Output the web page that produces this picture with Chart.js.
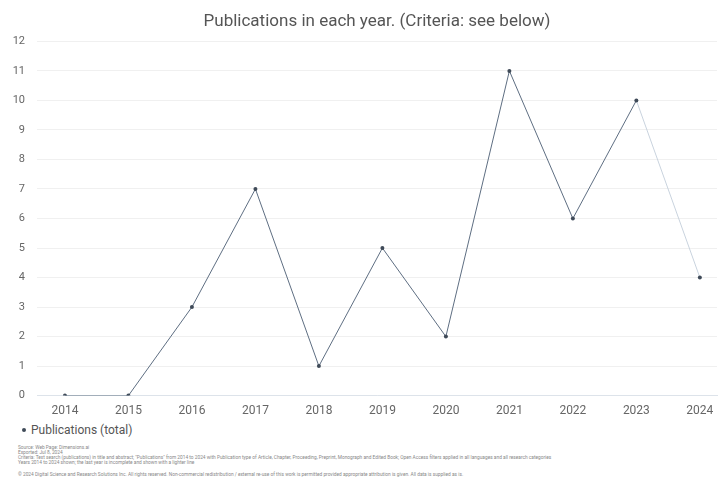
<!DOCTYPE html>
<html>
<head>
<meta charset="utf-8">
<script src="https://cdn.jsdelivr.net/npm/chart.js@4/dist/chart.umd.min.js"></script>
<style>
    body { margin: 0; background: #fff; font-family: Roboto, "Noto Sans", sans-serif; }
    #wrap { position: relative; width: 721px; height: 418px; }
    #legend { margin: 5px 0 0 22px; height: 14px; color: #555; font-size: 12px; line-height: 14px; }
    #legend span.dot { display: inline-block; width: 4px; height: 4px; border-radius: 50%; background: #3f4a58; vertical-align: middle; margin: 0 5px 2px 0; }
    #notes { padding: 8px 0 0 18px; color: #888; font-size: 4.8px; line-height: 5px; width: 695px; }
    #notes p { margin: 0 0 7px 0; }
</style>
</head>
<body>
<div id="wrap"><canvas id="chart"></canvas></div>
<div id="legend"></div>
<div id="notes">
    <p>Source: Web Page: Dimensions.ai<br>Exported: Jul 8, 2024<br>Criteria: Text search (publications) in title and abstract; &quot;Publications&quot; from 2014 to 2024 with Publication type of Article, Chapter, Proceeding, Preprint, Monograph and Edited Book; Open Access filters applied in all languages and all research categories<br>Years 2014 to 2024 shown; the last year is incomplete and shown with a lighter line</p>
    <p>&copy; 2024 Digital Science and Research Solutions Inc. All rights reserved. Non-commercial redistribution / external re-use of this work is permitted provided appropriate attribution is given. All data is supplied as is.</p>
</div>
<script>
let years = [2014, 2015, 2016, 2017, 2018, 2019, 2020, 2021, 2022, 2023, 2024];
let publications = [0, 0, 3, 7, 1, 5, 2, 11, 6, 10, 4];
let partialYear = 2024;
let seriesLabel = 'Publications (total)';
let titleText = 'Publications in each year. (Criteria: see below)';

let lineColor = '#5e6e82';
let partialColor = '#c9d3de';

let chart = new Chart(document.getElementById('chart').getContext('2d'), {
    type: 'line',
    data: {
        datasets: [{
            label: seriesLabel,
            data: years.map(function (y, i) { return { x: y, y: publications[i] }; }),
            borderColor: lineColor,
            backgroundColor: '#3f4a58',
            borderWidth: 1,
            pointRadius: 2,
            pointBorderWidth: 0,
            pointBackgroundColor: '#3f4a58',
            tension: 0,
            segment: {
                borderColor: function (ctx) {
                    return ctx.p1.parsed.x === partialYear ? partialColor : lineColor;
                }
            }
        }]
    },
    options: {
        responsive: true,
        maintainAspectRatio: false,
        animation: false,
        layout: { padding: { left: 0, right: 4, top: 6, bottom: 0 } },
        plugins: {
            title: {
                display: true,
                fullSize: false,
                text: titleText,
                color: '#555',
                font: { size: 17, family: 'Roboto', weight: 'normal' },
                padding: { top: 6, bottom: 9 }
            },
            legend: { display: false },
            tooltip: { enabled: false }
        },
        scales: {
            x: {
                type: 'linear',
                min: 2013.56,
                max: 2024.27,
                afterBuildTicks: function (axis) {
                    axis.ticks = years.map(function (y) { return { value: y }; });
                },
                ticks: {
                    color: '#666',
                    font: { size: 12, family: 'Roboto' },
                    callback: function (v) { return String(v); },
                    padding: 0
                },
                grid: { display: false },
                border: { color: '#dde3ea' }
            },
            y: {
                min: 0,
                max: 12,
                afterFit: function (axis) {
                    axis.width = 37;
                },
                ticks: {
                    stepSize: 1,
                    color: '#666',
                    font: { size: 11, family: 'Roboto' },
                    padding: 12
                },
                grid: { color: '#f0f0f0', drawTicks: false },
                border: { display: false }
            }
        }
    }
});

// html legend built from the chart's own datasets
let legend = document.getElementById('legend');
for (let ds of chart.data.datasets) {
    let dot = document.createElement('span');
    dot.className = 'dot';
    legend.appendChild(dot);
    legend.appendChild(document.createTextNode(ds.label));
}
</script>
</body>
</html>
